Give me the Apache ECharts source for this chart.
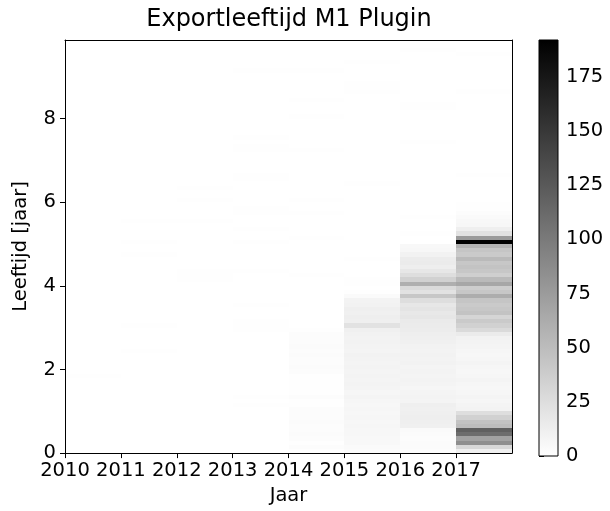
<!DOCTYPE html>
<html><head><meta charset="utf-8">
<script src="https://cdn.jsdelivr.net/npm/echarts@6/dist/echarts.min.js"></script>
<style>html,body{margin:0;padding:0;background:#fff}#c{width:610px;height:511px}</style>
</head><body><div id="c"></div>
<script>
// ---- data ----
const TITLE = 'Exportleeftijd M1 Plugin';
const X_NAME = 'Jaar';
const Y_NAME = 'Leeftijd [jaar]';
const YEARS = [2010, 2011, 2012, 2013, 2014, 2015, 2016, 2017];
const AGE_BIN = 0.1;          // age bin width in jaar; index i => [i*0.1, (i+1)*0.1)
const AGE_MAX = 9.88;
const COUNT_MAX = 192;
const X_TICKS = [2010, 2011, 2012, 2013, 2014, 2015, 2016, 2017];
const Y_TICKS = [0, 2, 4, 6, 8];
const CB_TICKS = [0, 25, 50, 75, 100, 125, 150, 175];

const COUNTS_2010 = [
0,0,0,0,0,0,0,0,0,0, 0,0,0,0,0,0,0,0,1,0, 0,0,0,0,0,0,0,0,0,0, 0,0,0,0,0,0,0,0,0,0,
0,0,0,0,0,0,0,0,0,0, 0,0,0,0,0,0,0,0,0,0, 0,0,0,0,0,0,0,0,0,0, 0,0,0,0,0,0,0,0,0,0,
0,0,0,0,0,0,0,0,0,0, 0,0,0,0,0,0,0,0,0];
const COUNTS_2011 = [
0,0,0,0,0,0,0,0,0,0, 0,0,0,0,0,0,0,0,0,0, 0,0,0,0,1,0,0,0,0,0, 1,0,0,0,0,0,0,0,0,0,
0,0,0,0,0,0,0,1,0,0, 1,0,0,0,0,1,0,0,0,0, 0,0,0,0,0,0,0,0,0,0, 0,0,0,0,0,0,0,0,0,0,
0,0,0,0,0,0,0,0,0,0, 0,0,0,0,0,0,0,0,0];
const COUNTS_2012 = [
0,0,0,0,0,0,0,0,0,0, 0,0,0,0,0,0,0,0,0,0, 0,0,0,0,0,0,0,0,0,0, 0,0,0,0,0,0,0,0,0,0,
0,1,1,1,0,0,0,0,0,0, 0,0,0,0,0,1,0,0,0,0, 1,0,0,1,0,0,0,0,0,0, 0,0,0,0,0,0,0,0,0,0,
0,0,0,0,0,0,0,0,0,0, 0,0,0,0,0,0,0,0,0];
const COUNTS_2013 = [
0,0,0,0,0,0,0,0,0,0, 0,1,0,1,0,0,0,0,0,0, 0,0,0,0,0,0,0,0,0,1, 1,1,0,0,0,1,0,0,0,0,
0,0,0,1,0,0,0,0,0,0, 1,0,0,1,0,0,0,1,1,0, 0,0,0,0,0,1,1,0,0,0, 0,0,1,1,0,1,0,0,0,0,
0,0,0,0,0,0,0,0,0,0, 0,1,0,0,0,0,0,0,0];
const COUNTS_2014 = [
1,2,1,2,3,2,2,3,2,2, 2,1,1,2,1,1,1,1,1,2, 3,2,2,3,2,3,2,2,2,1, 0,0,0,0,0,0,0,0,0,0,
0,0,1,0,0,0,0,0,0,0, 0,1,0,0,0,0,0,1,0,0, 1,0,0,0,0,0,0,0,0,0, 0,0,1,0,0,0,0,0,0,0,
1,0,0,0,1,0,0,0,0,0, 0,1,0,0,0,0,0,0,0];
const COUNTS_2015 = [
3,4,5,5,6,6,7,6,7,6, 7,6,7,8,7,8,9,8,9,8, 9,8,9,10,8,9,10,9,10,11, 22,12,13,11,12,10,9,4,1,0,
1,1,0,0,0,0,1,0,0,0, 0,0,0,0,0,0,0,0,0,0, 0,0,0,0,1,0,0,0,0,0, 0,0,0,0,0,0,0,0,0,0,
0,0,0,0,0,0,1,1,1,0, 0,0,0,1,0,0,0,0,0];
const COUNTS_2016 = [
2,3,3,2,3,4,11,12,13,12, 11,12,8,9,8,7,8,9,8,9, 8,10,9,10,9,10,11,12,13,14, 15,16,19,17,20,18,25,42,22,28,
60,35,25,18,13,15,14,10,6,5, 0,0,1,0,0,0,1,0,0,0, 0,0,0,0,0,0,0,0,0,0, 0,0,0,0,1,0,0,0,0,0,
0,0,1,1,0,0,0,0,0,0, 0,0,0,0,0,0,1,0,0];
const COUNTS_2017 = [
12,30,85,70,110,120,50,45,35,25, 9,8,7,8,7,6,7,8,7,6, 7,8,7,6,7,8,9,10,15,28, 35,40,32,45,42,40,44,62,42,38,
66,52,36,42,45,42,52,40,44,58, 192,75,22,12,6,5,4,2,1,1, 0,0,0,0,0,0,1,0,0,0, 0,0,0,0,0,0,0,0,0,0,
0,0,0,0,0,0,1,0,0,0, 0,0,0,0,0,1,0,0,0];

const COLUMNS = [COUNTS_2010, COUNTS_2011, COUNTS_2012, COUNTS_2013, COUNTS_2014, COUNTS_2015, COUNTS_2016, COUNTS_2017];

// ---- build cells ----
const cells = [];
COLUMNS.forEach(function (col, k) {
  col.forEach(function (v, i) {
    if (v > 0) cells.push([YEARS[k], +(i * AGE_BIN).toFixed(2), v]);
  });
});

const FONT = 'DejaVu Sans';
const FS = 19.5;

function renderCell(params, api) {
  const yr = api.value(0), a0 = api.value(1);
  const p0 = api.coord([yr, a0 + AGE_BIN]);
  const p1 = api.coord([yr + 1, a0]);
  const l = Math.round(p0[0]), r = Math.round(p1[0]);
  const t = Math.round(p0[1]), b = Math.round(p1[1]);
  return { type: 'rect', shape: { x: l, y: t, width: r - l, height: b - t },
           style: { fill: api.visual('color') } };
}

function renderBar(params, api) {
  const p0 = api.coord([0, api.value(1)]);
  const p1 = api.coord([1, api.value(0)]);
  return { type: 'rect', shape: { x: p0[0], y: p0[1], width: p1[0] - p0[0], height: p1[1] - p0[1] },
           style: { fill: new echarts.graphic.LinearGradient(0, 0, 0, 1, [
             { offset: 0, color: '#000000' }, { offset: 1, color: '#ffffff' }]),
             stroke: '#000', lineWidth: 1 } };
}

const plain = function (v) { return String(v); };

const chart = echarts.init(document.getElementById('c'), null, { renderer: 'canvas' });
const lineOnly = { show: true, onZero: false, lineStyle: { color: '#000', width: 1 } };
chart.setOption({
  animation: false,
  backgroundColor: '#fff',
  textStyle: { fontFamily: FONT },
  graphic: [{ type: 'text', x: 289, y: 20, style: { text: TITLE, fontFamily: FONT, fontSize: 24,
    fill: '#000', align: 'center', verticalAlign: 'middle' } }],
  grid: [
    { left: 65, top: 40, width: 447, height: 416 },
    { left: 539, top: 40, width: 19, height: 416 }
  ],
  xAxis: [
    { type: 'value', gridIndex: 0, min: 2010, max: 2018, z: 10,
      axisLine: lineOnly,
      axisTick: { show: true, length: 5, customValues: X_TICKS, lineStyle: { color: '#000' } },
      axisLabel: { customValues: X_TICKS, formatter: plain, fontSize: FS, color: '#000', margin: 8, fontFamily: FONT },
      splitLine: { show: false },
      name: X_NAME, nameLocation: 'middle', nameGap: 32,
      nameTextStyle: { fontSize: FS, color: '#000', fontFamily: FONT } },
    { type: 'value', gridIndex: 0, min: 2010, max: 2018, position: 'top', z: 10,
      axisLine: lineOnly, axisTick: { show: false }, axisLabel: { show: false }, splitLine: { show: false } },
    { type: 'value', gridIndex: 1, min: 0, max: 1, show: false }
  ],
  yAxis: [
    { type: 'value', gridIndex: 0, min: 0, max: AGE_MAX, z: 10,
      axisLine: lineOnly,
      axisTick: { show: true, length: 5, customValues: Y_TICKS, lineStyle: { color: '#000' } },
      axisLabel: { customValues: Y_TICKS, formatter: plain, fontSize: FS, color: '#000', margin: 9, fontFamily: FONT },
      splitLine: { show: false },
      name: Y_NAME, nameLocation: 'middle', nameGap: 34,
      nameTextStyle: { fontSize: FS, color: '#000', fontFamily: FONT } },
    { type: 'value', gridIndex: 0, min: 0, max: AGE_MAX, position: 'right', z: 10,
      axisLine: lineOnly, axisTick: { show: false }, axisLabel: { show: false }, splitLine: { show: false } },
    { type: 'value', gridIndex: 1, min: 0, max: COUNT_MAX, position: 'right',
      axisLine: { show: false },
      axisTick: { show: true, length: 5, customValues: CB_TICKS, lineStyle: { color: '#000' } },
      axisLabel: { customValues: CB_TICKS, formatter: plain, fontSize: FS, color: '#000', margin: 8, fontFamily: FONT },
      splitLine: { show: false } }
  ],
  visualMap: { type: 'continuous', show: false, seriesIndex: 0, dimension: 2,
    min: 0, max: COUNT_MAX, inRange: { color: ['#ffffff', '#000000'] } },
  series: [
    { type: 'custom', xAxisIndex: 0, yAxisIndex: 0, clip: true, renderItem: renderCell,
      encode: { x: 0, y: 1 }, data: cells },
    { type: 'custom', xAxisIndex: 2, yAxisIndex: 2, renderItem: renderBar,
      data: [[0, COUNT_MAX]], silent: true }
  ]
});
</script></body></html>
